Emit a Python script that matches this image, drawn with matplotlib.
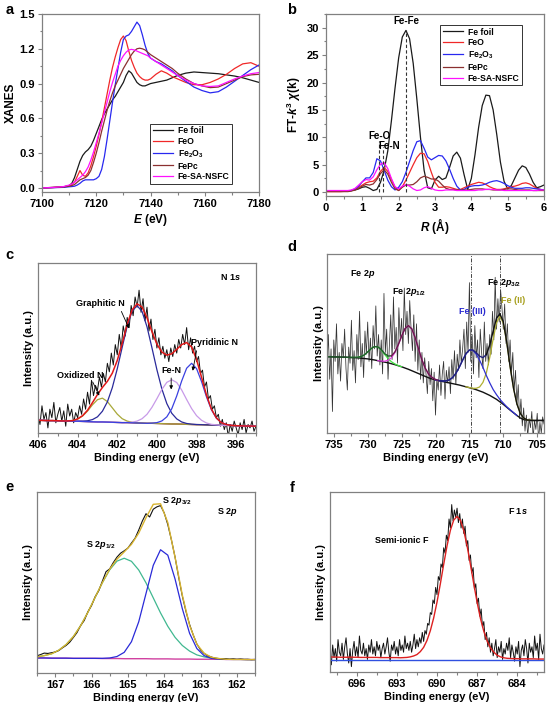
import numpy as np
import matplotlib
matplotlib.use('Agg')
import matplotlib.pyplot as plt
from matplotlib.ticker import MultipleLocator, FormatStrFormatter

plt.rcParams['font.family'] = ['Liberation Sans', 'DejaVu Sans']
plt.rcParams['font.weight'] = 'bold'
plt.rcParams['axes.labelweight'] = 'bold'
plt.rcParams['mathtext.fontset'] = 'custom'
plt.rcParams['mathtext.rm'] = 'Liberation Sans:bold'
plt.rcParams['mathtext.it'] = 'Liberation Sans:italic:bold'
plt.rcParams['mathtext.bf'] = 'Liberation Sans:bold'
plt.rcParams['mathtext.sf'] = 'Liberation Sans:bold'

# ---------------- panel a : XANES ----------------
a_E = [7100, 7104, 7108, 7110, 7111, 7112, 7113, 7114, 7115, 7116, 7117, 7118, 7119, 7120,
       7121, 7122, 7123, 7124, 7125, 7126, 7127, 7128, 7129, 7130, 7131, 7132, 7133, 7134,
       7135, 7136, 7137, 7138, 7139, 7140, 7142, 7144, 7146, 7148, 7150, 7153, 7156, 7159,
       7162, 7165, 7168, 7171, 7174, 7177, 7180]
a_fefoil = [0.0, 0.005, 0.01, 0.02, 0.04, 0.09, 0.16, 0.23, 0.28, 0.31, 0.33, 0.36, 0.41, 0.47,
            0.53, 0.59, 0.64, 0.68, 0.72, 0.76, 0.79, 0.83, 0.87, 0.91, 0.97, 1.01, 0.99, 0.95,
            0.91, 0.89, 0.88, 0.88, 0.89, 0.90, 0.91, 0.92, 0.93, 0.95, 0.97, 0.99, 1.0, 0.995,
            0.99, 0.985, 0.975, 0.965, 0.95, 0.93, 0.91]
a_feo = [0.0, 0.004, 0.01, 0.02, 0.03, 0.05, 0.1, 0.15, 0.11, 0.1, 0.13, 0.19, 0.27, 0.36,
         0.46, 0.57, 0.69, 0.81, 0.93, 1.04, 1.13, 1.21, 1.28, 1.31, 1.27, 1.18, 1.1, 1.04,
         0.99, 0.96, 0.94, 0.93, 0.93, 0.94, 0.98, 1.01, 0.99, 0.96, 0.94, 0.91, 0.89, 0.89,
         0.91, 0.94, 0.98, 1.03, 1.07, 1.08, 1.05]
a_fe2o3 = [0.0, 0.002, 0.005, 0.01, 0.012, 0.015, 0.025, 0.04, 0.06, 0.07, 0.07, 0.07, 0.07, 0.08,
           0.1, 0.16, 0.27, 0.42, 0.58, 0.74, 0.89, 1.03, 1.17, 1.28, 1.31, 1.32, 1.35, 1.39,
           1.43, 1.4, 1.32, 1.23, 1.16, 1.12, 1.09, 1.07, 1.04, 1.01, 0.97, 0.92, 0.87, 0.84,
           0.82, 0.83, 0.87, 0.92, 0.97, 1.02, 1.06]
a_fepc = [0.0, 0.003, 0.008, 0.015, 0.02, 0.03, 0.05, 0.07, 0.08, 0.09, 0.11, 0.15, 0.22, 0.3,
          0.39, 0.49, 0.58, 0.67, 0.75, 0.82, 0.88, 0.93, 0.98, 1.03, 1.07, 1.11, 1.15, 1.18,
          1.2, 1.205, 1.2, 1.19, 1.17, 1.15, 1.12, 1.09, 1.06, 1.03, 0.99, 0.94, 0.9, 0.88,
          0.865, 0.87, 0.9, 0.93, 0.96, 0.975, 0.98]
a_fesa = [0.0, 0.004, 0.012, 0.025, 0.035, 0.05, 0.07, 0.09, 0.11, 0.14, 0.18, 0.24, 0.31, 0.39,
          0.47, 0.56, 0.65, 0.74, 0.83, 0.91, 0.98, 1.05, 1.1, 1.14, 1.17, 1.19, 1.195, 1.19,
          1.18, 1.17, 1.16, 1.15, 1.14, 1.12, 1.09, 1.06, 1.03, 1.0, 0.97, 0.93, 0.9, 0.88,
          0.875, 0.88, 0.91, 0.94, 0.965, 0.985, 0.995]

# ---------------- panel b : FT-EXAFS ----------------
b_R = np.linspace(0.0, 6.0, 61)
b_fefoil = [0.2, 0.2, 0.2, 0.2, 0.2, 0.2, 0.25, 0.3, 0.4, 0.6,
            0.9, 1.0, 0.7, 0.3, 0.5, 1.8, 4.0, 7.5, 13.0, 19.0,
            24.5, 28.3, 29.5, 28.0, 23.5, 17.0, 10.0, 4.0, 0.8, 0.6,
            2.2, 2.9, 2.3, 2.6, 4.5, 6.6, 7.3, 6.2, 3.2, 0.5,
            2.5, 6.8, 11.8, 15.8, 17.7, 17.6, 15.0, 10.5, 5.5, 2.0,
            0.6, 1.2, 2.6, 4.0, 4.8, 4.5, 3.3, 1.8, 0.8, 1.0,
            1.3]
b_feo = [0.1, 0.1, 0.1, 0.1, 0.1, 0.15, 0.2, 0.3, 0.5, 0.9,
         1.3, 1.7, 1.9, 2.0, 2.6, 3.8, 4.5, 3.8, 2.3, 0.9,
         0.3, 1.0, 2.2, 3.6, 5.0, 6.3, 7.1, 7.0, 5.6, 3.6,
         1.8, 0.9, 0.9, 1.0, 0.9, 0.7, 0.5, 0.5, 0.8, 1.1,
         1.4, 1.6, 1.8, 1.7, 1.4, 1.0, 0.7, 0.5, 0.5, 0.6,
         0.8, 1.0, 1.1, 1.3, 1.6, 1.7, 1.5, 1.1, 0.7, 0.5,
         0.4]
b_fe2o3 = [0.2, 0.2, 0.2, 0.2, 0.2, 0.2, 0.2, 0.3, 0.6, 1.1,
           1.9, 2.6, 2.6, 3.6, 6.1, 5.7, 4.0, 2.2, 1.0, 0.4,
           0.9, 1.9, 3.6, 5.6, 7.6, 9.2, 9.4, 8.0, 6.4, 5.9,
           6.3, 6.7, 6.6, 5.7, 4.2, 2.5, 1.1, 0.4, 0.5, 0.9,
           1.1, 1.2, 1.2, 1.3, 1.5, 1.8, 2.0, 2.1, 1.9, 1.6,
           1.2, 0.9, 0.7, 0.7, 0.7, 0.8, 0.8, 0.7, 0.6, 0.5,
           0.4]
b_fepc = [0.1, 0.1, 0.1, 0.1, 0.1, 0.1, 0.1, 0.2, 0.4, 0.7,
          1.1, 1.4, 1.3, 1.5, 2.3, 3.4, 4.1, 3.3, 1.8, 0.6,
          0.3, 0.9, 1.3, 1.3, 1.4, 1.9, 2.6, 2.9, 2.7, 2.4,
          2.4, 2.0, 1.3, 0.7, 0.5, 0.5, 0.4, 0.4, 0.4, 0.4,
          0.5, 0.6, 0.6, 0.6, 0.5, 0.5, 0.4, 0.4, 0.4, 0.5,
          0.6, 0.6, 0.5, 0.4, 0.4, 0.4, 0.4, 0.3, 0.3, 0.3,
          0.3]
b_fesa = [0.3, 0.3, 0.3, 0.3, 0.3, 0.3, 0.3, 0.4, 0.7, 1.3,
          1.9, 2.3, 2.2, 2.8, 4.1, 5.1, 5.4, 4.3, 2.5, 1.0,
          0.6, 1.1, 1.4, 1.1, 0.6, 0.3, 0.4, 0.8, 1.0, 0.7,
          0.4, 0.3, 0.3, 0.4, 0.4, 0.4, 0.3, 0.3, 0.3, 0.3,
          0.3, 0.3, 0.4, 0.4, 0.5, 0.5, 0.5, 0.4, 0.4, 0.3,
          0.3, 0.3, 0.3, 0.3, 0.3, 0.3, 0.3, 0.3, 0.3, 0.4,
          0.4]
legend_labels = ['Fe foil', 'FeO', r'Fe$_2$O$_3$', 'FePc', 'Fe-SA-NSFC']
legend_colors = ['#1a1a1a', '#f02828', '#2828f0', '#8b3030', '#ff10ff']

# ---------------- panel c : N 1s ----------------
c_fit_x = np.linspace(406, 395, 45)
c_data_x = np.linspace(406, 395, 111)
c_data = [0.10, 0.05, 0.16, 0.08, 0.12, 0.03, 0.14, 0.09, 0.18, 0.06,
          0.11, 0.15, 0.07, 0.13, 0.04, 0.17, 0.10, 0.14, 0.06, 0.12,
          0.09, 0.16, 0.11, 0.20, 0.14, 0.24, 0.17, 0.31, 0.22, 0.28,
          0.25, 0.33, 0.27, 0.35, 0.30, 0.41, 0.36, 0.47, 0.40, 0.52,
          0.46, 0.58, 0.50, 0.63, 0.57, 0.68, 0.62, 0.75, 0.69, 0.80,
          0.74, 0.84, 0.71, 0.79, 0.66, 0.74, 0.60, 0.67, 0.55, 0.61,
          0.50, 0.56, 0.46, 0.51, 0.44, 0.49, 0.42, 0.50, 0.45, 0.52,
          0.47, 0.55, 0.50, 0.58, 0.52, 0.62, 0.49, 0.56, 0.47, 0.51,
          0.42, 0.45, 0.35, 0.37, 0.27, 0.30, 0.20, 0.22, 0.14, 0.16,
          0.09, 0.11, 0.04, 0.08, 0.02, 0.06, -0.02, 0.05, 0.01, 0.07,
          0.03, -0.01, 0.06, 0.02, 0.08, 0.00, 0.05, 0.03, 0.07, 0.01, 0.04]
c_base = [0.075, 0.074, 0.073, 0.073, 0.072, 0.071, 0.070, 0.069, 0.069, 0.068,
          0.067, 0.066, 0.065, 0.065, 0.064, 0.063, 0.062, 0.061, 0.061, 0.060,
          0.059, 0.058, 0.057, 0.057, 0.056, 0.055, 0.054, 0.053, 0.053, 0.052,
          0.051, 0.050, 0.049, 0.049, 0.048, 0.047, 0.046, 0.045, 0.045, 0.044,
          0.043, 0.042, 0.041, 0.041, 0.040]
c_oxid = [0.075, 0.074, 0.073, 0.073, 0.072, 0.071, 0.071, 0.073, 0.082, 0.100,
          0.129, 0.166, 0.196, 0.205, 0.185, 0.148, 0.111, 0.084, 0.070, 0.063,
          0.059, 0.058, 0.057, 0.057, 0.056, 0.055, 0.054, 0.053, 0.053, 0.052,
          0.051, 0.050, 0.049, 0.049, 0.048, 0.047, 0.046, 0.045, 0.045, 0.044,
          0.043, 0.042, 0.041, 0.041, 0.040]
c_graph = [0.075, 0.074, 0.073, 0.073, 0.072, 0.071, 0.070, 0.069, 0.070, 0.070,
           0.072, 0.079, 0.095, 0.128, 0.183, 0.267, 0.378, 0.505, 0.629, 0.717,
           0.749, 0.715, 0.625, 0.501, 0.372, 0.259, 0.173, 0.116, 0.083, 0.065,
           0.056, 0.052, 0.050, 0.049, 0.048, 0.047, 0.046, 0.045, 0.045, 0.044,
           0.043, 0.042, 0.041, 0.041, 0.040]
c_fen = [0.075, 0.074, 0.073, 0.073, 0.072, 0.071, 0.070, 0.069, 0.069, 0.068,
         0.067, 0.066, 0.065, 0.065, 0.064, 0.063, 0.062, 0.061, 0.062, 0.064,
         0.070, 0.084, 0.110, 0.151, 0.202, 0.256, 0.298, 0.313, 0.297, 0.253,
         0.197, 0.144, 0.102, 0.075, 0.059, 0.051, 0.048, 0.045, 0.045, 0.044,
         0.043, 0.042, 0.041, 0.041, 0.040]
c_pyr = [0.075, 0.074, 0.073, 0.073, 0.072, 0.071, 0.070, 0.069, 0.069, 0.068,
         0.067, 0.066, 0.065, 0.065, 0.064, 0.063, 0.062, 0.061, 0.061, 0.060,
         0.059, 0.058, 0.057, 0.058, 0.061, 0.071, 0.095, 0.143, 0.218, 0.306,
         0.381, 0.410, 0.379, 0.303, 0.213, 0.137, 0.087, 0.061, 0.050, 0.045,
         0.043, 0.042, 0.041, 0.041, 0.040]
c_env = [0.075, 0.074, 0.073, 0.073, 0.072, 0.071, 0.071, 0.073, 0.083, 0.102,
         0.134, 0.179, 0.226, 0.268, 0.304, 0.352, 0.427, 0.528, 0.640, 0.724,
         0.760, 0.741, 0.678, 0.596, 0.523, 0.476, 0.458, 0.466, 0.492, 0.520,
         0.532, 0.506, 0.432, 0.329, 0.224, 0.141, 0.089, 0.061, 0.050, 0.045,
         0.043, 0.042, 0.041, 0.041, 0.040]

# ---------------- panel d : Fe 2p ----------------
d_fit_x = np.linspace(736, 704, 65)
d_data_x = np.linspace(736, 704, 161)
d_data = [0.38, 0.55, 0.30, 0.47, 0.12, 0.52, 0.40, 0.61, 0.33, 0.45,
          0.29, 0.50, 0.42, 0.58, 0.36, 0.24, 0.48, 0.39, 0.63, 0.35,
          0.46, 0.28, 0.55, 0.41, 0.68, 0.37, 0.50, 0.31, 0.57, 0.44,
          0.62, 0.40, 0.53, 0.36, 0.60, 0.47, 0.71, 0.43, 0.55, 0.38,
          0.52, 0.33, 0.78, 0.45, 0.58, 0.30, 0.49, 0.66, 0.41, 0.76,
          0.47, 0.59, 0.39, 0.70, 0.52, 0.64, 0.46, 0.81, 0.55, 0.68,
          0.50, 0.74, 0.58, 0.46, 0.66, 0.40, 0.61, 0.35, 0.52, 0.30,
          0.45, 0.28, 0.42, 0.33, 0.22, 0.40, 0.27, 0.36, 0.18, 0.34,
          0.10, 0.30, 0.24, 0.38, 0.21, 0.33, 0.40, 0.19, 0.35, 0.28,
          0.37, 0.22, 0.41, 0.30, 0.46, 0.27, 0.44, 0.35, 0.52, 0.39,
          0.47, 0.58, 0.36, 0.62, 0.45, 0.84, 0.40, 0.55, 0.33, 0.60,
          0.42, 0.52, 0.31, 0.58, 0.45, 0.36, 0.62, 0.40, 0.50, 0.38,
          0.55, 0.44, 0.68, 0.52, 0.87, 0.58, 0.75, 0.62, 0.80, 0.70,
          0.58, 0.72, 0.50, 0.61, 0.40, 0.52, 0.33, 0.45, 0.24, 0.35,
          0.16, 0.27, 0.08, 0.19, 0.04, 0.14, 0.01, 0.10, -0.02, 0.08,
          0.03, 0.12, -0.03, 0.07, 0.02, 0.11, -0.04, 0.06, 0.00, 0.09,
          0.05]
d_bg = [0.426, 0.426, 0.425, 0.425, 0.424, 0.424, 0.423, 0.422, 0.421, 0.420,
        0.418, 0.416, 0.414, 0.411, 0.408, 0.404, 0.400, 0.396, 0.392, 0.387,
        0.382, 0.376, 0.370, 0.363, 0.356, 0.348, 0.340, 0.332, 0.324, 0.316,
        0.308, 0.302, 0.296, 0.292, 0.288, 0.284, 0.280, 0.276, 0.272, 0.268,
        0.263, 0.258, 0.253, 0.248, 0.242, 0.235, 0.228, 0.219, 0.210, 0.199,
        0.188, 0.174, 0.160, 0.144, 0.128, 0.113, 0.098, 0.084, 0.075, 0.071,
        0.070, 0.070, 0.070, 0.070, 0.070]
d_sat = [0.426, 0.426, 0.425, 0.425, 0.424, 0.424, 0.423, 0.422, 0.422, 0.423,
         0.427, 0.436, 0.453, 0.471, 0.483, 0.481, 0.464, 0.439, 0.416, 0.398,
         0.386, 0.377, 0.370, 0.363, 0.356, 0.348, 0.340, 0.332, 0.324, 0.316,
         0.308, 0.302, 0.296, 0.292, 0.288, 0.284, 0.280, 0.276, 0.272, 0.268,
         0.263, 0.258, 0.253, 0.248, 0.242, 0.235, 0.228, 0.219, 0.210, 0.199,
         0.188, 0.174, 0.160, 0.144, 0.128, 0.113, 0.098, 0.084, 0.075, 0.071,
         0.070, 0.070, 0.070, 0.070, 0.070]
d_p12 = [0.426, 0.426, 0.425, 0.425, 0.424, 0.424, 0.423, 0.422, 0.421, 0.420,
         0.418, 0.416, 0.414, 0.411, 0.408, 0.404, 0.402, 0.401, 0.406, 0.420,
         0.448, 0.491, 0.541, 0.583, 0.600, 0.582, 0.533, 0.469, 0.408, 0.361,
         0.328, 0.310, 0.299, 0.292, 0.288, 0.284, 0.280, 0.276, 0.272, 0.268,
         0.263, 0.258, 0.253, 0.248, 0.242, 0.235, 0.228, 0.219, 0.210, 0.199,
         0.188, 0.174, 0.160, 0.144, 0.128, 0.113, 0.098, 0.084, 0.075, 0.071,
         0.070, 0.070, 0.070, 0.070, 0.070]
d_fe3 = [0.426, 0.426, 0.425, 0.425, 0.424, 0.424, 0.423, 0.422, 0.421, 0.420,
         0.418, 0.416, 0.414, 0.411, 0.408, 0.404, 0.400, 0.396, 0.392, 0.387,
         0.382, 0.376, 0.370, 0.363, 0.356, 0.348, 0.340, 0.332, 0.324, 0.316,
         0.308, 0.302, 0.296, 0.293, 0.291, 0.291, 0.296, 0.309, 0.333, 0.367,
         0.407, 0.443, 0.463, 0.462, 0.441, 0.407, 0.366, 0.321, 0.280, 0.243,
         0.214, 0.188, 0.167, 0.147, 0.130, 0.114, 0.098, 0.084, 0.075, 0.071,
         0.070, 0.070, 0.070, 0.070, 0.070]
d_fe2 = [0.426, 0.426, 0.425, 0.425, 0.424, 0.424, 0.423, 0.422, 0.421, 0.420,
         0.418, 0.416, 0.414, 0.411, 0.408, 0.404, 0.400, 0.396, 0.392, 0.387,
         0.382, 0.376, 0.370, 0.363, 0.356, 0.348, 0.340, 0.332, 0.324, 0.316,
         0.308, 0.302, 0.296, 0.292, 0.288, 0.284, 0.280, 0.276, 0.272, 0.268,
         0.263, 0.258, 0.254, 0.250, 0.250, 0.257, 0.283, 0.336, 0.422, 0.525,
         0.616, 0.652, 0.614, 0.506, 0.371, 0.250, 0.163, 0.110, 0.084, 0.073,
         0.071, 0.070, 0.070, 0.070, 0.070]
d_env = [0.426, 0.426, 0.425, 0.425, 0.424, 0.424, 0.423, 0.422, 0.422, 0.423,
         0.427, 0.436, 0.453, 0.471, 0.483, 0.481, 0.466, 0.444, 0.430, 0.431,
         0.452, 0.492, 0.541, 0.583, 0.600, 0.582, 0.533, 0.469, 0.408, 0.361,
         0.328, 0.310, 0.299, 0.293, 0.291, 0.291, 0.296, 0.309, 0.333, 0.367,
         0.407, 0.443, 0.464, 0.464, 0.449, 0.429, 0.421, 0.438, 0.492, 0.569,
         0.642, 0.666, 0.621, 0.509, 0.372, 0.251, 0.163, 0.110, 0.084, 0.073,
         0.071, 0.070, 0.070, 0.070, 0.070]
d_lines = [714.7, 710.5]

# ---------------- panel e : S 2p ----------------
e_fit_x = np.linspace(167.5, 161.5, 31)
e_data_x = np.linspace(167.5, 161.5, 61)
e_data = [0.095, 0.102, 0.110, 0.108, 0.112, 0.116, 0.124, 0.139, 0.152, 0.170,
          0.196, 0.223, 0.262, 0.290, 0.338, 0.372, 0.421, 0.455, 0.508, 0.560,
          0.575, 0.610, 0.640, 0.662, 0.675, 0.690, 0.718, 0.745, 0.790, 0.840,
          0.880, 0.862, 0.905, 0.918, 0.925, 0.885, 0.820, 0.735, 0.640, 0.528,
          0.425, 0.340, 0.268, 0.210, 0.160, 0.128, 0.108, 0.095, 0.088, 0.082,
          0.080, 0.077, 0.079, 0.076, 0.078, 0.075, 0.077, 0.075, 0.076, 0.074,
          0.075]
e_base = [0.083, 0.083, 0.082, 0.082, 0.082, 0.081, 0.081, 0.081, 0.081, 0.080,
          0.080, 0.080, 0.079, 0.079, 0.079, 0.079, 0.078, 0.078, 0.078, 0.077,
          0.077, 0.077, 0.076, 0.076, 0.076, 0.076, 0.075, 0.075, 0.075, 0.074,
          0.074]
e_p12 = [0.089, 0.096, 0.106, 0.126, 0.157, 0.201, 0.261, 0.335, 0.418, 0.499,
         0.570, 0.618, 0.634, 0.617, 0.569, 0.498, 0.415, 0.332, 0.258, 0.197,
         0.152, 0.121, 0.100, 0.089, 0.082, 0.079, 0.076, 0.075, 0.075, 0.074,
         0.074]
e_p32 = [0.083, 0.083, 0.082, 0.082, 0.082, 0.081, 0.081, 0.081, 0.081, 0.081,
         0.083, 0.091, 0.114, 0.173, 0.283, 0.439, 0.595, 0.681, 0.651, 0.519,
         0.355, 0.219, 0.135, 0.096, 0.081, 0.077, 0.075, 0.075, 0.075, 0.074,
         0.074]
e_env = [0.089, 0.096, 0.106, 0.126, 0.157, 0.201, 0.261, 0.335, 0.418, 0.500,
         0.573, 0.629, 0.669, 0.711, 0.773, 0.858, 0.932, 0.935, 0.831, 0.639,
         0.430, 0.263, 0.159, 0.109, 0.087, 0.080, 0.076, 0.075, 0.075, 0.074,
         0.074]

# ---------------- panel f : F 1s ----------------
f_fit_x = np.linspace(698, 682, 65)
f_data_x = np.linspace(698, 682, 161)
f_data = [0.10, 0.04, 0.15, 0.08, 0.13, 0.06, 0.18, 0.11, 0.09, 0.16,
          0.07, 0.14, 0.19, 0.10, 0.05, 0.13, 0.03, 0.12, 0.17, 0.09,
          0.14, 0.08, 0.20, 0.12, 0.10, 0.16, 0.09, 0.13, 0.07, 0.15,
          0.11, 0.18, 0.10, 0.14, 0.09, 0.17, 0.12, 0.15, 0.08, 0.13,
          0.16, 0.10, 0.14, 0.19, 0.11, 0.06, 0.15, 0.12, 0.17, 0.10,
          0.14, 0.09, 0.18, 0.12, 0.15, 0.11, 0.20, 0.13, 0.16, 0.12,
          0.17, 0.11, 0.15, 0.21, 0.13, 0.18, 0.14, 0.19, 0.16, 0.22,
          0.17, 0.23, 0.21, 0.27, 0.26, 0.33, 0.32, 0.40, 0.38, 0.47,
          0.43, 0.53, 0.51, 0.60, 0.58, 0.69, 0.66, 0.76, 0.73, 0.85,
          0.80, 0.93, 0.84, 0.90, 0.86, 0.91, 0.83, 0.88, 0.80, 0.85,
          0.77, 0.81, 0.70, 0.73, 0.62, 0.65, 0.55, 0.58, 0.46, 0.49,
          0.38, 0.41, 0.31, 0.35, 0.25, 0.28, 0.18, 0.22, 0.14, 0.19,
          0.11, 0.16, 0.09, 0.13, 0.18, 0.08, 0.14, 0.11, 0.17, 0.07,
          0.13, 0.10, 0.16, 0.12, 0.19, 0.08, 0.15, 0.11, 0.06, 0.14,
          0.10, 0.17, 0.03, 0.12, 0.15, 0.09, 0.18, 0.13, 0.05, 0.16,
          0.11, 0.14, 0.08, 0.20, 0.12, 0.16, 0.07, 0.21, 0.13, 0.10,
          0.15]
f_fit = [0.083, 0.083, 0.083, 0.082, 0.082, 0.082, 0.082, 0.082, 0.082, 0.081,
         0.081, 0.081, 0.081, 0.081, 0.081, 0.080, 0.080, 0.080, 0.080, 0.080,
         0.080, 0.079, 0.080, 0.081, 0.084, 0.089, 0.097, 0.113, 0.137, 0.175,
         0.229, 0.300, 0.388, 0.490, 0.598, 0.701, 0.787, 0.844, 0.864, 0.843,
         0.786, 0.700, 0.597, 0.489, 0.387, 0.297, 0.226, 0.172, 0.134, 0.110,
         0.093, 0.084, 0.079, 0.076, 0.075, 0.074, 0.074, 0.073, 0.073, 0.073,
         0.073, 0.073, 0.072, 0.072, 0.072]
f_base_x = [698, 682]
f_base = [0.069, 0.069]

# ---------------- figure ----------------
W, H = 553, 702
fig = plt.figure(figsize=(W / 100, H / 100), dpi=100)


def add_ax(l, t, r, b):
    return fig.add_axes([l / W, 1 - b / H, (r - l) / W, (b - t) / H])


SPINE = '#808080'


def style(ax, xmaj, xmin, ymaj=None, ymin=None):
    for s in ax.spines.values():
        s.set_color(SPINE)
        s.set_linewidth(0.9)
    ax.xaxis.set_major_locator(MultipleLocator(xmaj))
    ax.xaxis.set_minor_locator(MultipleLocator(xmin))
    if ymaj is not None:
        ax.yaxis.set_major_locator(MultipleLocator(ymaj))
        ax.yaxis.set_minor_locator(MultipleLocator(ymin))
    else:
        ax.set_yticks([])
    ax.tick_params(which='both', direction='out', color=SPINE, width=0.8,
                   labelsize=8, pad=2, top=False, right=False)
    ax.tick_params(which='major', length=3.2)
    ax.tick_params(which='minor', length=1.8)
    for lab in ax.get_xticklabels() + ax.get_yticklabels():
        lab.set_fontweight('bold')


LW = 0.9
LEG = dict(frameon=True, fancybox=False, edgecolor='black', prop={'weight': 'bold', 'size': 6.2},
           handlelength=2.3, labelspacing=0.22, borderpad=0.3, handletextpad=0.6,
           borderaxespad=0.0)
# panel a
axa = add_ax(42, 14, 259, 192)
for ys, lab, col in zip([a_fefoil, a_feo, a_fe2o3, a_fepc, a_fesa], legend_labels, legend_colors):
    axa.plot(a_E, ys, color=col, lw=LW, label=lab)
axa.set_xlim(7100, 7180)
axa.set_ylim(-0.035, 1.5)
style(axa, 20, 10, 0.3, 0.15)
axa.yaxis.set_major_formatter(FormatStrFormatter('%.1f'))
axa.set_xlabel(r'$\mathit{E}$ (eV)', fontsize=8.5, labelpad=2)
axa.set_ylabel('XANES', fontsize=8.5)
axa.yaxis.set_label_coords(-0.115, 0.5)
leg = axa.legend(loc='lower right', bbox_to_anchor=(0.876, 0.045), **LEG)
leg.get_frame().set_linewidth(0.7)

# panel b
axb = add_ax(326, 14, 544, 196)
for ys, lab, col in zip([b_fefoil, b_feo, b_fe2o3, b_fepc, b_fesa], legend_labels, legend_colors):
    axb.plot(b_R, ys, color=col, lw=LW, label=lab)
axb.plot([1.47, 1.47], [0, 9.3], color='#333333', lw=0.8, ls=(0, (3, 2)))
axb.plot([1.58, 1.58], [0, 8.3], color='#333333', lw=0.8, ls=(0, (3, 2)))
axb.plot([2.2, 2.2], [0, 29.5], color='#333333', lw=0.8, ls=(0, (3, 2)))
axb.text(1.46, 10.3, 'Fe-O', fontsize=7, ha='center', va='center', fontweight='bold')
axb.text(1.74, 8.5, 'Fe-N', fontsize=7, ha='center', va='center', fontweight='bold')
axb.text(2.2, 31.3, 'Fe-Fe', fontsize=7, ha='center', va='center', fontweight='bold')
axb.set_xlim(0, 6)
axb.set_ylim(-0.7, 32.5)
style(axb, 1, 0.5, 5, 2.5)
axb.set_xlabel(r'$\mathit{R}$ ($\mathrm{\AA}$)', fontsize=8.5, labelpad=2)
axb.set_ylabel(r'FT-$\mathit{k}^{3}$ $\chi$(k)', fontsize=8.5)
axb.yaxis.set_label_coords(-0.105, 0.5)
leg = axb.legend(loc='upper right', bbox_to_anchor=(0.9, 0.94), **LEG)
leg.get_frame().set_linewidth(0.7)

# panel c
axc = add_ax(38, 263, 256, 433)
axc.plot(c_data_x, c_data, color='#111111', lw=0.7)
axc.plot(c_fit_x, c_base, color='#8b1a3a', lw=1.0)
axc.plot(c_fit_x, c_oxid, color='#a8a838', lw=0.9)
axc.plot(c_fit_x, c_graph, color='#2a2a9a', lw=0.9)
axc.plot(c_fit_x, c_fen, color='#c89ae8', lw=0.9)
axc.plot(c_fit_x, c_pyr, color='#3a40e0', lw=0.9)
axc.plot(c_fit_x, c_env, color='#e01818', lw=1.1)
axc.set_xlim(406, 395)
axc.set_ylim(0, 1)
style(axc, 2, 1)
axc.set_xlabel('Binding energy (eV)', fontsize=8, labelpad=2)
axc.set_ylabel('Intensity (a.u.)', fontsize=8)
axc.yaxis.set_label_coords(-0.018, 0.5)
kw = dict(fontsize=6.5, ha='center', va='center', fontweight='bold')
axc.text(396.3, 0.92, r'N 1$\mathit{s}$', **kw)
axc.text(402.85, 0.76, 'Graphitic N', **kw)
axc.text(397.1, 0.535, 'Pyridinic N', **kw)
axc.text(399.25, 0.37, 'Fe-N', **kw)
axc.text(403.85, 0.34, 'Oxidized N', **kw)
ap = dict(arrowstyle='-|>', lw=0.6, color='black', mutation_scale=5)
axc.annotate('', xy=(401.35, 0.6), xytext=(401.85, 0.73), arrowprops=ap)
axc.annotate('', xy=(398.22, 0.35), xytext=(397.97, 0.50), arrowprops=ap)
axc.annotate('', xy=(399.28, 0.24), xytext=(399.28, 0.34), arrowprops=ap)
axc.annotate('', xy=(402.85, 0.205), xytext=(403.3, 0.315), arrowprops=ap)

# panel d
axd = add_ax(327, 254, 544, 433)
axd.plot(d_data_x, d_data, color='#333333', lw=0.55)
for xv in d_lines:
    axd.axvline(xv, color='#444444', lw=0.7, ls=(0, (4, 1.5, 1, 1.5)))
bg = np.array(d_bg)


def seg(comp):
    comp = np.array(comp)
    m = np.abs(comp - bg) > 0.0008
    m = m | np.roll(m, 1) | np.roll(m, -1)
    return np.where(m, comp, np.nan)


axd.plot(d_fit_x, d_bg, color='#111111', lw=1.0)
axd.plot(d_fit_x, seg(d_sat), color='#40e040', lw=0.9)
axd.plot(d_fit_x, seg(d_p12), color='#e040e0', lw=0.9)
axd.plot(d_fit_x, seg(d_fe2), color='#b0b030', lw=0.9)
axd.plot(d_fit_x, seg(d_fe3), color='#3030d0', lw=0.9)
env = np.array(d_env)
for i0, i1, col in [(0, 19, '#1f5a2a'), (19, 33, '#6a1a4a'), (33, 47, '#20207a'), (47, 64, '#111111')]:
    axd.plot(d_fit_x[i0:i1 + 1], env[i0:i1 + 1], color=col, lw=1.0)
axd.set_xlim(736, 704)
axd.set_ylim(0, 1)
style(axd, 5, 2.5)
axd.set_xlabel('Binding energy (eV)', fontsize=8, labelpad=2)
axd.set_ylabel('Intensity (a.u.)', fontsize=8)
axd.yaxis.set_label_coords(-0.014, 0.5)
axd.text(730.7, 0.89, r'Fe 2$\mathit{p}$', **kw)
axd.text(723.9, 0.79, r'Fe 2$\mathit{p}_{1/2}$', **kw)
axd.text(709.9, 0.84, r'Fe 2$\mathit{p}_{3/2}$', **kw)
axd.text(714.6, 0.68, 'Fe (III)', color='#2a2ad0', **kw)
axd.text(708.6, 0.74, 'Fe (II)', color='#a8a020', **kw)

# panel e
axe = add_ax(37, 492, 255, 673)
axe.plot(e_fit_x, e_base, color='#d040a0', lw=1.0)
axe.plot(e_fit_x, e_p12, color='#40b890', lw=0.9)
axe.plot(e_fit_x, e_p32, color='#2a2ad8', lw=0.9)
axe.plot(e_data_x, e_data, color='#111111', lw=0.8)
axe.plot(e_fit_x, e_env, color='#d8b430', lw=1.0)
axe.set_xlim(167.5, 161.5)
axe.set_ylim(0, 1)
style(axe, 1, 0.5)
axe.set_xlabel('Binding energy (eV)', fontsize=8, labelpad=2)
axe.set_ylabel('Intensity (a.u.)', fontsize=8)
axe.yaxis.set_label_coords(-0.018, 0.5)
axe.text(163.65, 0.948, r'S 2$\mathit{p}_{3/2}$', **kw)
axe.text(162.25, 0.888, r'S 2$\mathit{p}$', **kw)
axe.text(165.75, 0.709, r'S 2$\mathit{p}_{1/2}$', **kw)

# panel f
axf = add_ax(330, 492, 544, 672)
axf.plot(f_data_x, f_data, color='#111111', lw=0.7)
axf.plot(f_base_x, f_base, color='#3050e0', lw=1.0)
axf.plot(f_fit_x, f_fit, color='#dd2020', lw=1.0)
axf.set_xlim(698, 682)
axf.set_ylim(0, 1)
style(axf, 3, 1.5)
axf.set_xlabel('Binding energy (eV)', fontsize=8, labelpad=2)
axf.set_ylabel('Intensity (a.u.)', fontsize=8)
axf.yaxis.set_label_coords(-0.019, 0.5)
axf.text(683.97, 0.896, r'F 1$\mathit{s}$', **kw)
axf.text(692.6, 0.73, 'Semi-ionic F', **kw)

# panel letters
for lab, px, py in [('a', 10, 10), ('b', 292, 10), ('c', 9, 255), ('d', 292, 247),
                    ('e', 9, 487), ('f', 292, 488)]:
    fig.text(px / W, 1 - py / H, lab, fontsize=10.5, fontweight='bold', ha='center', va='center')

fig.savefig('out.png', dpi=100)
